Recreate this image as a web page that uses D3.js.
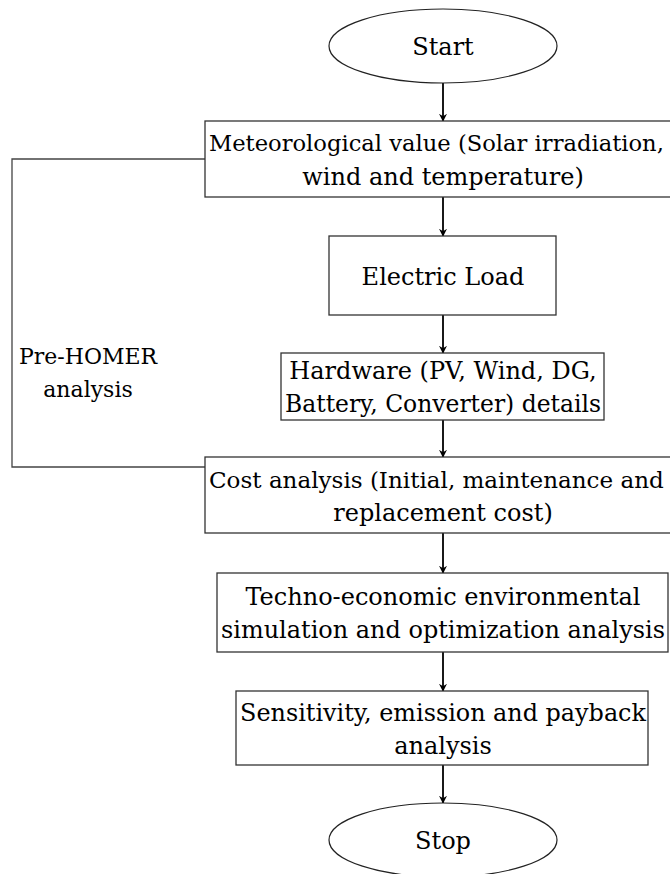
<!DOCTYPE html>
<html>
<head>
<meta charset="utf-8">
<script src="https://cdn.jsdelivr.net/npm/d3@7"></script>
<style>
  body { margin: 0; background: #fff; }
  svg text { font-family: "DejaVu Serif", serif; font-size: 24px; fill: #000; }
</style>
</head>
<body>
<svg id="chart" width="670" height="874"></svg>
<script>
// flow steps, top to bottom
var stepIds = ["start", "met", "load", "hw", "cost", "techno", "sens", "stop"];
var stepShapes = ["ellipse", "rect", "rect", "rect", "rect", "rect", "rect", "ellipse"];
var stepLines = [
  ["Start"],
  ["Meteorological value (Solar irradiation,", "wind and temperature)"],
  ["Electric Load"],
  ["Hardware (PV, Wind, DG,", "Battery, Converter) details"],
  ["Cost analysis (Initial, maintenance and", "replacement cost)"],
  ["Techno-economic environmental", "simulation and optimization analysis"],
  ["Sensitivity, emission and payback", "analysis"],
  ["Stop"]
];
var loopLabel = ["Pre-HOMER", "analysis"];
var loopFrom = "met", loopTo = "cost";

// layout
var W = 670;
var cx = 443;
var fontSize = 24;
var layout = {
  start:  {x0: 329, x1: 557, y0: 9,   y1: 83},
  met:    {x0: 205, x1: 690, y0: 121, y1: 197},
  load:   {x0: 329, x1: 556, y0: 236, y1: 315},
  hw:     {x0: 281, x1: 604, y0: 353, y1: 420},
  cost:   {x0: 205, x1: 690, y0: 457, y1: 533},
  techno: {x0: 217, x1: 668, y0: 573, y1: 652},
  sens:   {x0: 236, x1: 648, y0: 691, y1: 765},
  stop:   {x0: 329, x1: 557, y0: 803, y1: 877}
};
var lineGap = 33;

var svg = d3.select("#chart");

svg.append("defs").append("marker")
  .attr("id", "arrow")
  .attr("viewBox", "0 0 10 10")
  .attr("refX", 9).attr("refY", 5)
  .attr("markerWidth", 8).attr("markerHeight", 8)
  .attr("markerUnits", "userSpaceOnUse")
  .attr("orient", "auto")
  .append("path")
  .attr("d", "M0,0 L10,5 L0,10 L3,5 Z")
  .style("fill", "#000");

var steps = stepIds.map(function(id, i){
  return {id: id, shape: stepShapes[i], lines: stepLines[i], b: layout[id]};
});

// arrows between consecutive steps
var links = d3.pairs(steps);
svg.append("g").selectAll("line")
  .data(links)
  .enter().append("line")
  .attr("x1", cx).attr("x2", cx)
  .attr("y1", function(d){ return d[0].b.y1; })
  .attr("y2", function(d){ return d[1].b.y0; })
  .style("stroke", "#000")
  .style("stroke-width", 1.8)
  .attr("marker-end", "url(#arrow)");

// feedback loop on the left
var lf = layout[loopFrom], lt = layout[loopTo];
var loopX = 12;
var yFrom = (lf.y0 + lf.y1) / 2, yTo = 467;
svg.append("path")
  .attr("d", d3.line()([[lf.x0, yFrom], [loopX, yFrom], [loopX, yTo], [lt.x0, yTo]]))
  .style("fill", "none")
  .style("stroke", "#444")
  .style("stroke-width", 1.3);

var g = svg.append("g").selectAll("g")
  .data(steps)
  .enter().append("g");

g.filter(function(d){ return d.shape === "rect"; })
  .append("rect")
  .attr("x", function(d){ return d.b.x0; })
  .attr("y", function(d){ return d.b.y0; })
  .attr("width", function(d){ return Math.min(d.b.x1, W + 2) - d.b.x0; })
  .attr("height", function(d){ return d.b.y1 - d.b.y0; })
  .style("fill", "#fff")
  .style("stroke", "#333")
  .style("stroke-width", 1.3);

g.filter(function(d){ return d.shape === "ellipse"; })
  .append("ellipse")
  .attr("cx", function(d){ return (d.b.x0 + d.b.x1) / 2; })
  .attr("cy", function(d){ return (d.b.y0 + d.b.y1) / 2; })
  .attr("rx", function(d){ return (d.b.x1 - d.b.x0) / 2; })
  .attr("ry", function(d){ return (d.b.y1 - d.b.y0) / 2; })
  .style("fill", "#fff")
  .style("stroke", "#222")
  .style("stroke-width", 1.2);

// wide boxes run off the page: first line starts at the left edge
g.each(function(d){
  var n = d.lines.length;
  var midY = (d.b.y0 + d.b.y1) / 2 + 1;
  var isWide = (d.id === "met" || d.id === "cost");
  var sel = d3.select(this);
  d.lines.forEach(function(t, i){
    var y = midY + (i - (n - 1) / 2) * lineGap;
    var leftAlign = isWide && i === 0;
    var txt = sel.append("text")
      .attr("x", leftAlign ? d.b.x0 + 4 : cx)
      .attr("y", y)
      .attr("dy", "0.35em")
      .attr("text-anchor", leftAlign ? "start" : "middle")
      .text(t);
    // shrink lines that would run past the page edge
    var len = txt.node().getComputedTextLength();
    var room = leftAlign ? W - (d.b.x0 + 4) - 6
                         : 2 * (Math.min(cx - d.b.x0, W - cx) - 4);
    if (len > room) {
      txt.style("font-size", (fontSize * room / len).toFixed(2) + "px");
    }
  });
});

svg.append("g").selectAll("text")
  .data(loopLabel)
  .enter().append("text")
  .attr("x", 88)
  .attr("y", function(d, i){ return 356 + i * lineGap; })
  .attr("dy", "0.35em")
  .attr("text-anchor", "middle")
  .style("font-size", "22px")
  .text(function(d){ return d; });
</script>
</body>
</html>
